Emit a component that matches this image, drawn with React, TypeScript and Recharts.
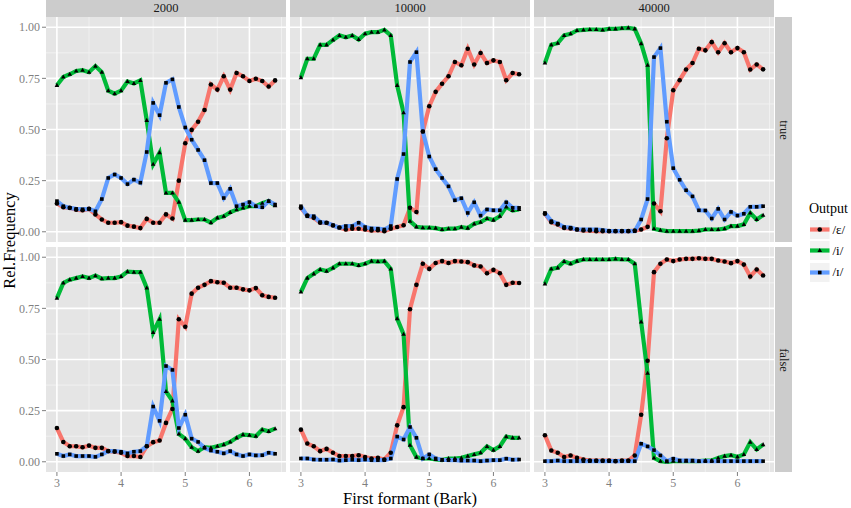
import React from 'react';
import { LineChart, Line, XAxis, YAxis, CartesianGrid, ReferenceLine } from 'recharts';

// first formant (Bark) steps
const bark = [3.0, 3.1, 3.2, 3.3, 3.4, 3.5, 3.6, 3.7, 3.8, 3.9, 4.0, 4.1, 4.2, 4.3, 4.4, 4.5, 4.6, 4.7, 4.8, 4.9,
  5.0, 5.1, 5.2, 5.3, 5.4, 5.5, 5.6, 5.7, 5.8, 5.9, 6.0, 6.1, 6.2, 6.3, 6.4];

// 2000 / true
const e2000T = [0.138, 0.12, 0.117, 0.108, 0.105, 0.112, 0.085, 0.06, 0.044, 0.044, 0.047, 0.03, 0.025, 0.018, 0.063, 0.044, 0.044, 0.085, 0.065, 0.25, 0.433, 0.498, 0.538, 0.595, 0.72, 0.695, 0.76, 0.695, 0.776, 0.76, 0.737, 0.748, 0.737, 0.71, 0.74];
const i2000T = [0.716, 0.757, 0.77, 0.786, 0.79, 0.78, 0.81, 0.78, 0.69, 0.675, 0.69, 0.735, 0.725, 0.74, 0.545, 0.33, 0.387, 0.19, 0.19, 0.145, 0.057, 0.057, 0.06, 0.06, 0.045, 0.068, 0.076, 0.095, 0.108, 0.117, 0.125, 0.125, 0.14, 0.15, 0.128];
const I2000T = [0.15, 0.125, 0.117, 0.112, 0.11, 0.112, 0.1, 0.16, 0.263, 0.28, 0.263, 0.233, 0.255, 0.24, 0.39, 0.63, 0.57, 0.728, 0.745, 0.61, 0.51, 0.45, 0.4, 0.35, 0.238, 0.238, 0.165, 0.21, 0.125, 0.133, 0.145, 0.125, 0.12, 0.15, 0.133];

// 10000 / true
const e10000T = [0.117, 0.079, 0.068, 0.044, 0.044, 0.031, 0.021, 0.011, 0.015, 0.015, 0.011, 0.006, 0.008, 0.003, 0.015, 0.023, 0.032, 0.117, 0.097, 0.49, 0.614, 0.684, 0.724, 0.76, 0.83, 0.814, 0.895, 0.818, 0.874, 0.825, 0.838, 0.83, 0.741, 0.776, 0.77];
const i10000T = [0.754, 0.846, 0.846, 0.914, 0.914, 0.938, 0.96, 0.951, 0.96, 0.94, 0.968, 0.976, 0.976, 0.987, 0.96, 0.716, 0.582, 0.052, 0.024, 0.02, 0.02, 0.018, 0.011, 0.015, 0.015, 0.023, 0.018, 0.039, 0.047, 0.065, 0.057, 0.076, 0.122, 0.104, 0.109];
const I10000T = [0.125, 0.076, 0.076, 0.047, 0.044, 0.032, 0.02, 0.028, 0.028, 0.044, 0.023, 0.016, 0.015, 0.011, 0.028, 0.258, 0.38, 0.83, 0.878, 0.49, 0.368, 0.306, 0.263, 0.222, 0.154, 0.164, 0.092, 0.144, 0.079, 0.109, 0.105, 0.105, 0.144, 0.117, 0.117];

// 40000 / true
const e40000T = [0.088, 0.047, 0.036, 0.019, 0.016, 0.011, 0.006, 0.006, 0.003, 0.003, 0.003, 0.003, 0.003, 0.003, 0.006, 0.011, 0.024, 0.138, 0.1, 0.457, 0.692, 0.741, 0.793, 0.825, 0.895, 0.887, 0.927, 0.878, 0.922, 0.878, 0.898, 0.878, 0.793, 0.818, 0.794];
const i40000T = [0.825, 0.914, 0.922, 0.96, 0.968, 0.984, 0.987, 0.989, 0.989, 0.987, 0.992, 0.992, 0.995, 0.997, 0.992, 0.92, 0.814, 0.015, 0.008, 0.003, 0.003, 0.003, 0.003, 0.003, 0.006, 0.011, 0.011, 0.011, 0.015, 0.028, 0.028, 0.036, 0.092, 0.06, 0.081];
const I40000T = [0.092, 0.052, 0.04, 0.023, 0.02, 0.011, 0.011, 0.011, 0.011, 0.008, 0.003, 0.003, 0.003, 0.003, 0.003, 0.06, 0.16, 0.854, 0.898, 0.538, 0.311, 0.254, 0.203, 0.173, 0.105, 0.104, 0.065, 0.112, 0.06, 0.097, 0.079, 0.088, 0.122, 0.122, 0.125];

// 2000 / false
const e2000F = [0.165, 0.097, 0.076, 0.076, 0.071, 0.079, 0.068, 0.068, 0.052, 0.049, 0.044, 0.028, 0.028, 0.023, 0.076, 0.096, 0.104, 0.19, 0.258, 0.697, 0.66, 0.822, 0.851, 0.865, 0.883, 0.878, 0.875, 0.851, 0.851, 0.843, 0.838, 0.849, 0.814, 0.806, 0.802];
const i2000F = [0.8, 0.874, 0.89, 0.898, 0.906, 0.898, 0.91, 0.895, 0.898, 0.898, 0.906, 0.93, 0.927, 0.927, 0.85, 0.632, 0.697, 0.344, 0.298, 0.136, 0.113, 0.071, 0.052, 0.071, 0.068, 0.076, 0.084, 0.097, 0.117, 0.133, 0.13, 0.125, 0.157, 0.149, 0.162];
const I2000F = [0.039, 0.028, 0.036, 0.028, 0.028, 0.028, 0.024, 0.036, 0.052, 0.052, 0.049, 0.041, 0.049, 0.052, 0.076, 0.27, 0.2, 0.468, 0.449, 0.165, 0.23, 0.113, 0.097, 0.068, 0.055, 0.049, 0.041, 0.052, 0.036, 0.028, 0.036, 0.031, 0.032, 0.044, 0.039];

// 10000 / false
const e10000F = [0.157, 0.089, 0.076, 0.052, 0.063, 0.044, 0.028, 0.028, 0.028, 0.032, 0.023, 0.016, 0.019, 0.011, 0.044, 0.178, 0.267, 0.746, 0.865, 0.968, 0.943, 0.972, 0.981, 0.972, 0.981, 0.979, 0.976, 0.96, 0.955, 0.922, 0.938, 0.922, 0.865, 0.875, 0.874];
const i10000F = [0.83, 0.898, 0.919, 0.94, 0.932, 0.948, 0.968, 0.968, 0.968, 0.96, 0.968, 0.981, 0.979, 0.981, 0.943, 0.7, 0.624, 0.081, 0.023, 0.016, 0.016, 0.011, 0.008, 0.016, 0.016, 0.019, 0.028, 0.036, 0.044, 0.075, 0.057, 0.075, 0.123, 0.117, 0.117];
const I10000F = [0.016, 0.016, 0.011, 0.01, 0.01, 0.011, 0.006, 0.008, 0.01, 0.008, 0.011, 0.008, 0.008, 0.008, 0.016, 0.123, 0.109, 0.17, 0.117, 0.016, 0.036, 0.016, 0.01, 0.008, 0.008, 0.006, 0.006, 0.006, 0.003, 0.006, 0.008, 0.008, 0.015, 0.01, 0.011];

// 40000 / false
const e40000F = [0.13, 0.055, 0.044, 0.023, 0.031, 0.019, 0.011, 0.006, 0.006, 0.006, 0.006, 0.003, 0.006, 0.006, 0.031, 0.23, 0.494, 0.927, 0.968, 0.989, 0.981, 0.989, 0.992, 0.992, 0.995, 0.992, 0.992, 0.984, 0.979, 0.971, 0.981, 0.964, 0.906, 0.94, 0.911];
const i40000F = [0.87, 0.943, 0.948, 0.979, 0.968, 0.981, 0.989, 0.989, 0.989, 0.989, 0.989, 0.992, 0.989, 0.989, 0.968, 0.684, 0.433, 0.019, 0.003, 0, 0.003, 0.003, 0.003, 0.003, 0.003, 0.006, 0.006, 0.019, 0.028, 0.032, 0.024, 0.036, 0.096, 0.06, 0.084];
const I40000F = [0.003, 0.003, 0.006, 0.003, 0.003, 0.003, 0.003, 0.003, 0.003, 0.003, 0.003, 0.003, 0.003, 0.003, 0.003, 0.088, 0.075, 0.057, 0.031, 0.003, 0.015, 0.006, 0.006, 0.006, 0.003, 0.003, 0.003, 0.003, 0.003, 0.003, 0.003, 0.003, 0.003, 0.003, 0.003];

const sizes = ['2000', '10000', '40000'];
const conditions = ['true', 'false'];
const xMajor = [3, 4, 5, 6];
const xMinor = [3.5, 4.5, 5.5, 6.5];
const yMajor = [0, 0.25, 0.5, 0.75, 1];
const yMinor = [0.125, 0.375, 0.625, 0.875];

const series = [
  { key: 'e', name: '/ɛ/', color: '#F8766D', shape: 'circle' },
  { key: 'i', name: '/i/', color: '#00BA38', shape: 'triangle' },
  { key: 'I', name: '/ɪ/', color: '#619CFF', shape: 'square' },
];

const grid = [
  [[e2000T, i2000T, I2000T], [e10000T, i10000T, I10000T], [e40000T, i40000T, I40000T]],
  [[e2000F, i2000F, I2000F], [e10000F, i10000F, I10000F], [e40000F, i40000F, I40000F]],
];

const FONT = '"Times New Roman", Tinos, "Liberation Serif", "Noto Serif", "DejaVu Serif", serif';
const PW = 240;
const PH = 225;
const colX = [46, 290, 534];
const rowY = [17, 247];
const Y_W = 46;
const X_H = 22;

const Marker = ({ cx, cy, shape }: any) => {
  if (cx == null || cy == null) return null;
  if (shape === 'circle') return <circle cx={cx} cy={cy} r={2.3} fill="#000" />;
  if (shape === 'triangle')
    return <polygon points={`${cx},${cy - 2.5} ${cx - 2.3},${cy + 1.6} ${cx + 2.3},${cy + 1.6}`} fill="#000" />;
  return <rect x={cx - 1.8} y={cy - 1.8} width={3.6} height={3.6} fill="#000" />;
};

const Panel = ({ row, col }: { row: number; col: number }) => {
  const vals = grid[row][col];
  const data = bark.map((x, k) => ({ x, e: vals[0][k], i: vals[1][k], I: vals[2][k] }));
  const showY = col === 0;
  const showX = row === 1;
  const w = PW + (showY ? Y_W : 0);
  const h = PH + (showX ? X_H : 0);
  const tick = { fill: '#7F7F7F', fontSize: 12, fontFamily: FONT };
  return (
    <div style={{ position: 'absolute', left: colX[col] - (showY ? Y_W : 0), top: rowY[row] }}>
      <LineChart width={w} height={h} data={data} margin={{ top: 0, right: 0, bottom: 0, left: 0 }}>
        <CartesianGrid fill="#E5E5E5" fillOpacity={1} horizontal={false} vertical={false} stroke="none" />
        <XAxis
          type="number"
          dataKey="x"
          domain={[2.83, 6.57]}
          ticks={xMajor}
          interval={0}
          hide={!showX}
          height={X_H}
          axisLine={false}
          tickSize={4}
          tickMargin={2}
          tickLine={{ stroke: '#7F7F7F' }}
          tick={tick}
        />
        <YAxis
          type="number"
          domain={[-0.05, 1.05]}
          ticks={yMajor}
          interval={0}
          hide={!showY}
          width={Y_W}
          axisLine={false}
          tickSize={4}
          tickMargin={2}
          tickLine={{ stroke: '#7F7F7F' }}
          tick={tick}
          tickFormatter={(v: number) => v.toFixed(2)}
        />
        {xMinor.map((v) => (
          <ReferenceLine key={`xm${v}`} x={v} stroke="#F2F2F2" strokeWidth={0.8} ifOverflow="hidden" />
        ))}
        {yMinor.map((v) => (
          <ReferenceLine key={`ym${v}`} y={v} stroke="#F2F2F2" strokeWidth={0.8} />
        ))}
        {xMajor.map((v) => (
          <ReferenceLine key={`xM${v}`} x={v} stroke="#FFFFFF" strokeWidth={1.6} />
        ))}
        {yMajor.map((v) => (
          <ReferenceLine key={`yM${v}`} y={v} stroke="#FFFFFF" strokeWidth={1.6} />
        ))}
        {series.map((s) => (
          <Line
            key={`l${s.key}`}
            dataKey={s.key}
            type="linear"
            stroke={s.color}
            strokeWidth={4.2}
            dot={false}
            activeDot={false}
            isAnimationActive={false}
          />
        ))}
        {series.map((s) => (
          <Line
            key={`p${s.key}`}
            dataKey={s.key}
            type="linear"
            stroke="none"
            activeDot={false}
            dot={(p: any) => <Marker key={`${s.key}-${p.index}`} cx={p.cx} cy={p.cy} shape={s.shape} />}
            isAnimationActive={false}
          />
        ))}
      </LineChart>
    </div>
  );
};

const App = () => {
  return (
    <div style={{ position: 'absolute', left: 0, top: 0, width: 851, height: 508, background: '#fff', fontFamily: FONT }}>
      {sizes.map((s, c) => (
        <div
          key={`top${s}`}
          style={{
            position: 'absolute', left: colX[c], top: 0, width: PW, height: 16.5, background: '#CCCCCC',
            color: '#1A1A1A', fontSize: 12.5, lineHeight: '17px', textAlign: 'center',
          }}
        >
          {s}
        </div>
      ))}
      {conditions.map((t, r) => (
        <div
          key={`side${t}`}
          style={{
            position: 'absolute', left: colX[2] + PW + 0.5, top: rowY[r], width: 17.5, height: PH, background: '#CCCCCC',
          }}
        >
          <div
            style={{
              position: 'absolute', left: '50%', top: '50%', transform: 'translate(-50%, -50%) rotate(90deg)',
              color: '#1A1A1A', fontSize: 12.5, whiteSpace: 'nowrap',
            }}
          >
            {t}
          </div>
        </div>
      ))}
      {conditions.map((t, r) => sizes.map((s, c) => <Panel key={`${t}${s}`} row={r} col={c} />))}
      <div
        style={{
          position: 'absolute', left: 8.5 - 60, top: 240 - 8.5, width: 120, height: 17, lineHeight: '17px', textAlign: 'center',
          fontSize: 16.5, transform: 'rotate(-90deg)', color: '#000',
        }}
      >
        Rel.Frequency
      </div>
      <div
        style={{
          position: 'absolute', left: colX[0], top: 491, width: colX[2] + PW - colX[0], height: 16, lineHeight: '16px',
          textAlign: 'center', fontSize: 16.5,
        }}
      >
        First formant (Bark)
      </div>
      <div style={{ position: 'absolute', left: 809, top: 201, fontSize: 14 }}>Output</div>
      {series.map((s, k) => (
        <div key={`lg${s.key}`} style={{ position: 'absolute', left: 810, top: 220 + k * 21.3, height: 19, display: 'flex', alignItems: 'center' }}>
          <svg width={19.5} height={19} style={{ display: 'block' }}>
            <rect x={0} y={0} width={19.5} height={19} fill="#F2F2F2" />
            <line x1={0} x2={19.5} y1={9.5} y2={9.5} stroke={s.color} strokeWidth={4.2} />
            <Marker cx={9.75} cy={9.5} shape={s.shape} />
          </svg>
          <span style={{ marginLeft: 3, fontSize: 13, color: '#000' }}>{s.name}</span>
        </div>
      ))}
    </div>
  );
};

export default App;
